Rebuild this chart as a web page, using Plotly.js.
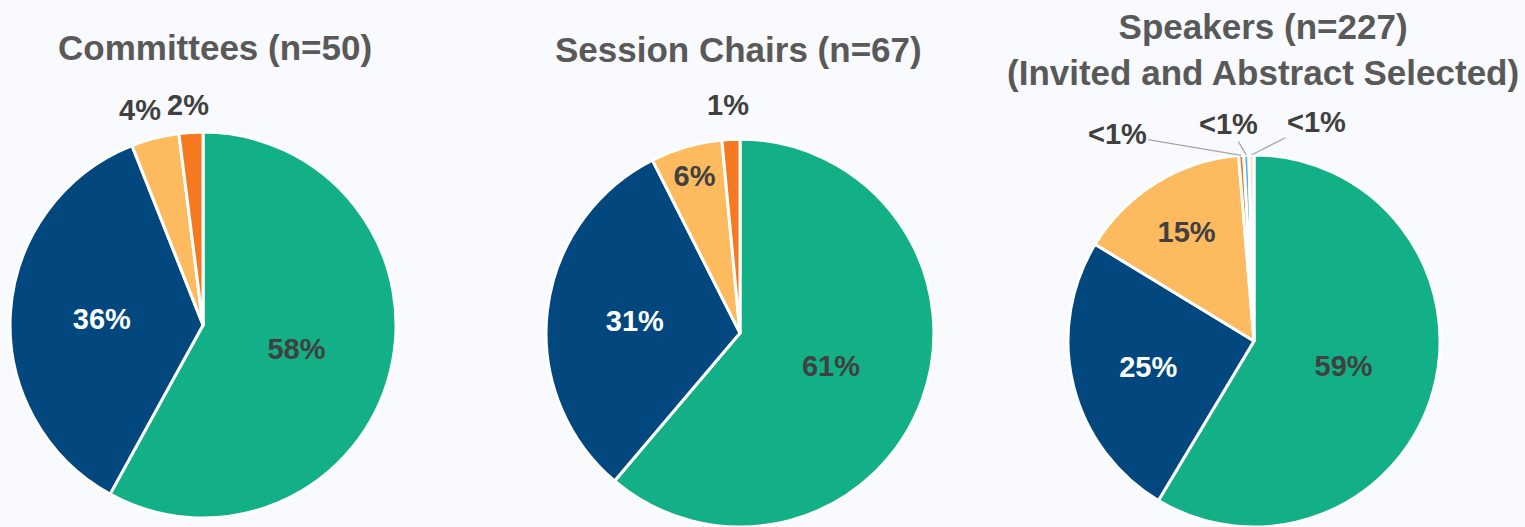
<!DOCTYPE html>
<html><head><meta charset="utf-8">
<script src="https://cdn.plot.ly/plotly-3.0.1.min.js"></script>
<style>html,body{margin:0;padding:0;background:#f8fafd;}#chart{width:1525px;height:527px;}</style>
</head><body><div id="chart"></div>
<script>
const categories = ["Group A","Group B","Group C","Group D","Group E","Group F"];
const committeesValues = [29, 18, 2, 1];
const committeesLabels = ["58%","36%","4%","2%"];
const chairsValues = [41, 21, 4, 1];
const chairsLabels = ["61%","31%","6%","1%"];
const speakersValues = [133, 57, 34, 1, 1, 1];
const speakersLabels = ["59%","25%","15%","<1%","<1%","<1%"];
const titles = ["Committees (n=50)","Session Chairs (n=67)","Speakers (n=227)<br>(Invited and Abstract Selected)"];

const W = 1525, H = 527;
const colors = ["#13B087","#02487F","#FDBA5F","#F47920","#4FB3E8","#FBE3C4"];
const dark = "#404040";
const insideColors = [dark, "#ffffff", dark, dark, dark, dark];
const font = "Liberation Sans, Arial, sans-serif";
const lblFont = {family: font, size: 29, color: dark, weight: "bold"};

const domains = [
  {x:[0.0066,0.2597], y:[0.017,0.7495]},
  {x:[0.358,0.6125], y:[0,0.736]},
  {x:[0.6997,0.9449], y:[0,0.706]}
];

function pie(values, labels, domain, nInside){
  const txt = labels.map((t,i) => i < nInside ? t : "");
  return {
    type: "pie", sort: false, direction: "clockwise", rotation: 0,
    labels: categories.slice(0, values.length), values: values,
    text: txt, textinfo: "text", hoverinfo: "skip",
    textposition: labels.map((t,i) => i < nInside ? "inside" : "none"),
    insidetextorientation: "horizontal",
    marker: {colors: colors.slice(0, values.length), line: {color: "#ffffff", width: 3}},
    insidetextfont: {family: font, size: 29, color: insideColors.slice(0, values.length), weight: "bold"},
    domain: domain, showlegend: false
  };
}

const data = [
  pie(committeesValues, committeesLabels, domains[0], 2),
  pie(chairsValues, chairsLabels, domains[1], 3),
  pie(speakersValues, speakersLabels, domains[2], 3)
];

// edge point of a slice (paper coords) computed from the data and the pie domain
function sliceEdge(values, idx, domain){
  const total = values.reduce((a,b)=>a+b,0);
  let cum = 0; for (let i=0;i<idx;i++) cum += values[i];
  const frac = (cum + values[idx]/2)/total;
  const th = frac*2*Math.PI;
  const wpx = (domain.x[1]-domain.x[0])*W, hpx = (domain.y[1]-domain.y[0])*H;
  const r = Math.min(wpx,hpx)/2;
  const cx = (domain.x[0]+domain.x[1])/2*W, cy = (domain.y[0]+domain.y[1])/2*H;
  return {x: (cx + r*Math.sin(th))/W, y: (cy + r*Math.cos(th))/H};
}

const tfont = {family: font, size: 35, color: "#595959", weight: "bold"};
const ann = [
  {text: titles[0], x: 215/W, y: 1-47/H, showarrow:false, font: tfont},
  {text: titles[1], x: 738/W, y: 1-50/H, showarrow:false, font: tfont},
  {text: titles[2], x: 1263/W, y: 1-50/H, showarrow:false, font: tfont},
  {text: committeesLabels[2], x: 140/W, y: 1-110/H, showarrow:false, font: lblFont},
  {text: committeesLabels[3], x: 188/W, y: 1-105/H, showarrow:false, font: lblFont},
  {text: chairsLabels[3], x: 728/W, y: 1-105/H, showarrow:false, font: lblFont}
];
const spkOffsets = [[-124,-21],[-18,-31],[65,-33]];
for (let k=0;k<3;k++){
  const idx = 3+k;
  const e = sliceEdge(speakersValues, idx, domains[2]);
  ann.push({text: speakersLabels[idx], x: e.x, y: e.y, showarrow: true, arrowhead: 0, arrowwidth: 1.2,
            arrowcolor: "#a6a6a6", ax: spkOffsets[k][0], ay: spkOffsets[k][1], font: lblFont, standoff: 0});
}
ann.forEach(a => { a.xref = "paper"; a.yref = "paper"; a.xanchor = a.xanchor || "center"; a.yanchor = a.yanchor || "middle"; });

const layout = {
  width: W, height: H,
  margin: {l:0, r:0, t:0, b:0},
  paper_bgcolor: "#f8fafd",
  annotations: ann
};
Plotly.newPlot("chart", data, layout, {displayModeBar:false, staticPlot:true});
</script>
</body></html>
